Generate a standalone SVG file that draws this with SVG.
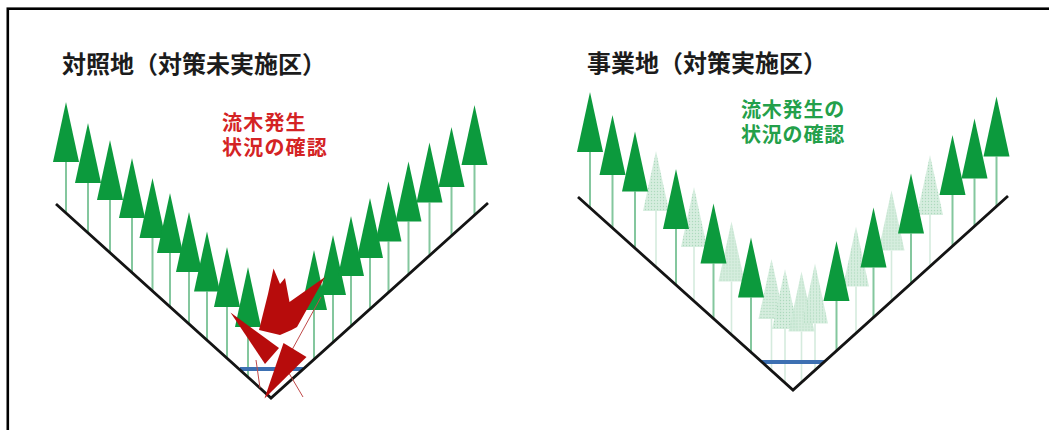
<svg xmlns="http://www.w3.org/2000/svg" xmlns:xlink="http://www.w3.org/1999/xlink" width="1049" height="430" viewBox="0 0 1049 430">
  <style>
    .title { font-family: "Noto Sans CJK JP", "Noto Sans", sans-serif; font-size: 24px; font-weight: 700; fill: #1c1c1c; }
    .note { font-family: "Noto Sans CJK JP", "Noto Sans", sans-serif; font-size: 20px; font-weight: 700; }
    .note-red { fill: #d42324; letter-spacing: 1.2px; }
    .note-green { fill: #23a04a; letter-spacing: 0.8px; }
    .ground { fill: none; stroke: #141414; stroke-width: 2.8; stroke-linejoin: miter; }
    .water { stroke: #3d70b2; stroke-width: 4; }
    .trunk { fill: none; stroke: #84c79e; stroke-width: 2; }
    .trunk-faint { fill: none; stroke: #d5ebde; stroke-width: 1.6; }
    .tree { fill: #0c9a3d; }
    .tree-faint { fill: url(#stipple); fill-opacity: 0.92; }
    .fallen { fill: #b70c0c; }
    .fallen-line { stroke: #c04a4a; stroke-width: 1; fill: none; }
  </style>
  <defs>
    <!-- conifer crown: apex at origin, 60 tall, 26 wide -->
    <path id="crown" d="M0,0 L13,60 L-13,60 Z"/>
    <!-- stippled fill for the thinned-out trees -->
    <pattern id="stipple" width="3" height="3" patternUnits="userSpaceOnUse">
      <rect width="3" height="3" fill="#d3ecdc"/>
      <circle cx="1.5" cy="1.5" r="0.7" fill="#a6d6b8"/>
    </pattern>
  </defs>

  <rect width="1049" height="430" fill="#ffffff"/>
  <!-- outer frame (runs off the right and bottom edges) -->
  <rect x="7.8" y="8.7" width="1200" height="600" fill="none" stroke="#000" stroke-width="2.6"/>

  <!-- ===== control site (no countermeasure) ===== -->
  <g id="control-site">
    <text class="title" x="62" y="73">対照地（対策未実施区）</text>
    <text id="control-note" class="note note-red"><tspan x="222" y="130">流木発生</tspan><tspan x="222" y="154.5">状況の確認</tspan></text>

    <!-- trunks down to the slope -->
    <path class="trunk" d="M66,162V213 M88,183V233 M110,200V253 M132,218V273 M152.5,238V291 M170,253V307 M189,272V324 M207,291.5V340 M227,307V358 M248,327V377
                           M314,310V359 M333,295V342 M351,276V326 M370,258V309 M388.5,241.5V292 M408.5,221.5V274 M429.5,202.5V256 M451.5,187V236 M474.5,165V215"/>

    <!-- stream at the valley bottom -->
    <line class="water" x1="240" y1="369" x2="303" y2="369"/>

    <!-- valley slopes -->
    <path class="ground" d="M56,204 L271,398 L488,203"/>

    <!-- standing trees -->
    <g id="control-trees" class="tree">
      <use xlink:href="#crown" x="66" y="102"/>
      <use xlink:href="#crown" x="88" y="123"/>
      <use xlink:href="#crown" x="110" y="140"/>
      <use xlink:href="#crown" x="132" y="158"/>
      <use xlink:href="#crown" x="152.5" y="178"/>
      <use xlink:href="#crown" x="170" y="193"/>
      <use xlink:href="#crown" x="189" y="212"/>
      <use xlink:href="#crown" x="207" y="231.5"/>
      <use xlink:href="#crown" x="227" y="247"/>
      <use xlink:href="#crown" x="248" y="267"/>
      <use xlink:href="#crown" x="314" y="250"/>
      <use xlink:href="#crown" x="333" y="235"/>
      <use xlink:href="#crown" x="351" y="216"/>
      <use xlink:href="#crown" x="370" y="198"/>
      <use xlink:href="#crown" x="388.5" y="181.5"/>
      <use xlink:href="#crown" x="408.5" y="161.5"/>
      <use xlink:href="#crown" x="429.5" y="142.5"/>
      <use xlink:href="#crown" x="451.5" y="127"/>
      <use xlink:href="#crown" x="474.5" y="105"/>
    </g>

    <!-- toppled trees piling up in the channel -->
    <g id="fallen-trees">
      <path class="fallen-line" d="M321,297 L270,390 M283,363 L303,397 M256,360 L260,388"/>
      <polygon class="fallen" points="273.5,268.5 280,284 285,278 289.5,302 325,277 297,327 291.5,330 280,335 259,330 268,294"/>
      <polygon class="fallen" points="230.5,312.5 279,348 265,364"/>
      <polygon class="fallen" points="283.5,343 306.5,357 264.5,398.5"/>
    </g>
  </g>

  <!-- ===== project site (countermeasure applied) ===== -->
  <g id="project-site">
    <text class="title" x="587" y="71.5">事業地（対策実施区）</text>
    <text id="project-note" class="note note-green"><tspan x="741" y="116.5">流木発生の</tspan><tspan x="741" y="142">状況の確認</tspan></text>

    <!-- trunks of the thinned trees -->
    <path class="trunk-faint" d="M656,211V267 M694,247V301 M731.5,281.5V335 M771.5,319V371 M785,329V383 M801.5,331.5V382 M815,323.5V370 M856,286.5V333 M891.5,250.5V301 M930,215V266"/>
    <!-- trunks of the remaining trees -->
    <path class="trunk" d="M590,152V208 M612.5,175V228 M635,191.5V248 M676,229V285 M713.5,263.5V319 M751,297.5V352
                           M836.5,301V351 M873.5,267.5V317 M911,233.5V284 M952.5,195V246 M974.5,178.5V226 M996.5,156.5V206"/>

    <line class="water" x1="762" y1="362" x2="824" y2="362"/>

    <path class="ground" d="M578,197 L793,390 L1008,196"/>

    <!-- thinned trees -->
    <g id="thinned-trees" class="tree-faint">
      <use xlink:href="#crown" x="656" y="151"/>
      <use xlink:href="#crown" x="694" y="187"/>
      <use xlink:href="#crown" x="731.5" y="221.5"/>
      <use xlink:href="#crown" x="771.5" y="259"/>
      <use xlink:href="#crown" x="785" y="269"/>
      <use xlink:href="#crown" x="801.5" y="271.5"/>
      <use xlink:href="#crown" x="815" y="263.5"/>
      <use xlink:href="#crown" x="856" y="226.5"/>
      <use xlink:href="#crown" x="891.5" y="190.5"/>
      <use xlink:href="#crown" x="930" y="155"/>
    </g>

    <!-- remaining trees -->
    <g id="project-trees" class="tree">
      <use xlink:href="#crown" x="590" y="92"/>
      <use xlink:href="#crown" x="612.5" y="115"/>
      <use xlink:href="#crown" x="635" y="131.5"/>
      <use xlink:href="#crown" x="676" y="169"/>
      <use xlink:href="#crown" x="713.5" y="203.5"/>
      <use xlink:href="#crown" x="751" y="237.5"/>
      <use xlink:href="#crown" x="836.5" y="241"/>
      <use xlink:href="#crown" x="873.5" y="207.5"/>
      <use xlink:href="#crown" x="911" y="173.5"/>
      <use xlink:href="#crown" x="952.5" y="135"/>
      <use xlink:href="#crown" x="974.5" y="118.5"/>
      <use xlink:href="#crown" x="996.5" y="96.5"/>
    </g>
  </g>
</svg>
